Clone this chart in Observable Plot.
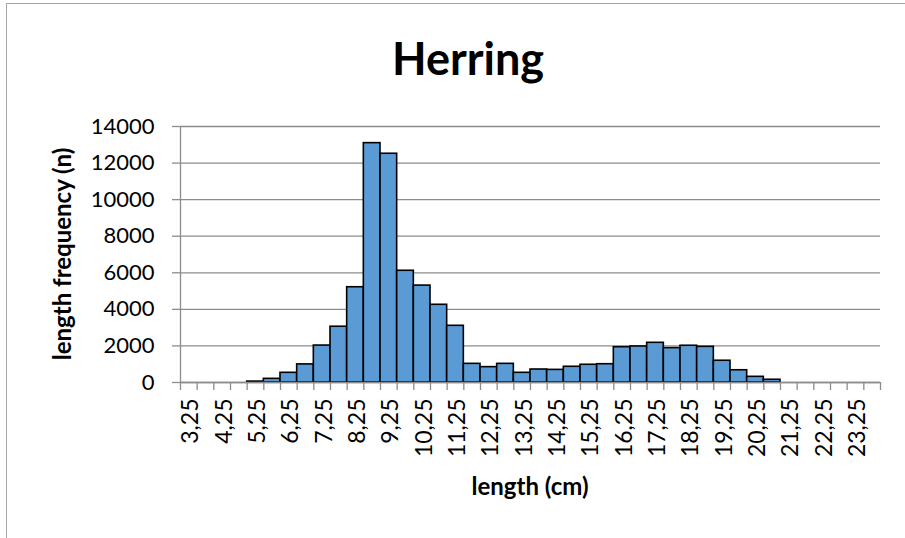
<!DOCTYPE html>
<html>
<head>
<meta charset="utf-8">
<script src="https://cdn.jsdelivr.net/npm/d3@7"></script>
<script src="https://cdn.jsdelivr.net/npm/@observablehq/plot@0.6"></script>
<style>
  html, body { margin: 0; padding: 0; background: #fff; overflow: hidden; width: 905px; height: 538px; }
  #wrap { position: relative; width: 905px; height: 538px; font-family: Lato, "Open Sans", sans-serif; }
  #frame { position: absolute; left: 6px; top: 3px; width: 1200px; height: 1200px; border: 1.5px solid #a6a6a6; box-sizing: border-box; }
  #chart { position: absolute; left: 0; top: 0; }
  .lbl { position: absolute; font-weight: bold; color: #000; white-space: nowrap; line-height: 1; }
  #title { left: 468px; top: 36px; transform: translateX(-50%); font-size: 45px; }
  #xtitle { left: 530px; top: 474px; transform: translateX(-50%); font-size: 24px; }
  #ytitle { left: 50px; top: 254px; font-size: 24px; transform-origin: 0 0; transform: rotate(-90deg) translate(-50%, 0); }
</style>
</head>
<body>
<div id="wrap">
  <div id="frame"></div>
  <div id="chart"></div>
  <div class="lbl" id="title">Herring</div>
  <div class="lbl" id="xtitle">length (cm)</div>
  <div class="lbl" id="ytitle">length frequency (n)</div>
</div>
<script>
// Length classes (cm), class width 0.5 cm
const lengths = [3.25, 3.75, 4.25, 4.75, 5.25, 5.75, 6.25, 6.75, 7.25, 7.75,
  8.25, 8.75, 9.25, 9.75, 10.25, 10.75, 11.25, 11.75, 12.25, 12.75,
  13.25, 13.75, 14.25, 14.75, 15.25, 15.75, 16.25, 16.75, 17.25, 17.75,
  18.25, 18.75, 19.25, 19.75, 20.25, 20.75, 21.25, 21.75, 22.25, 22.75,
  23.25, 23.75];
// Length frequency (n)
const counts = [0, 0, 0, 0, 50, 200, 530, 990, 2020, 3050,
  5210, 13090, 12510, 6110, 5300, 4250, 3100, 1020, 840, 1020,
  530, 710, 690, 860, 970, 1000, 1930, 1970, 2170, 1880,
  2010, 1950, 1190, 670, 310, 150, 0, 0, 0, 0,
  0, 0];
// Axis tick labels
const xLabels = [3.25, 4.25, 5.25, 6.25, 7.25, 8.25, 9.25, 10.25, 11.25, 12.25,
  13.25, 14.25, 15.25, 16.25, 17.25, 18.25, 19.25, 20.25, 21.25, 22.25, 23.25];
const yTicks = [0, 2000, 4000, 6000, 8000, 10000, 12000, 14000];

const classWidth = 0.5;
const data = lengths.map((len, i) => ({len, n: counts[i]}));
const xDomain = [lengths[0] - classWidth / 2, lengths[lengths.length - 1] + classWidth / 2];
const boundaries = lengths.map(l => l - classWidth / 2).concat([xDomain[1]]);
const gray = "#8c8c8c";
const fmt = d => d.toFixed(2).replace(".", ",");

const chart = Plot.plot({
  width: 905,
  height: 538,
  marginLeft: 180,
  marginRight: 25,
  marginTop: 126,
  marginBottom: 156,
  style: {fontFamily: "Lato, 'Open Sans', sans-serif", background: "transparent", color: "#000"},
  x: {type: "linear", domain: xDomain},
  y: {domain: [yTicks[0], yTicks[yTicks.length - 1]]},
  marks: [
    Plot.gridY(yTicks, {stroke: gray, strokeOpacity: 1, strokeWidth: 1.3}),
    Plot.rectY(data.filter(d => d.n > 0), {
      x1: d => d.len - classWidth / 2,
      x2: d => d.len + classWidth / 2,
      y: "n",
      fill: "#5B9BD5",
      stroke: "#000",
      strokeWidth: 1.6
    }),
    Plot.ruleX([xDomain[0]], {stroke: gray, strokeWidth: 1.3}),
    Plot.ruleY([yTicks[0]], {stroke: gray, strokeWidth: 1.3}),
    Plot.axisY(yTicks, {tickSize: 8, tickPadding: 18, stroke: gray, strokeWidth: 1.3, fontSize: 22, fill: "#000", tickFormat: d => String(d), label: null}),
    Plot.axisX(boundaries, {tickSize: 8, stroke: gray, strokeWidth: 1.3, text: null, label: null}),
    Plot.axisX(xLabels, {tickSize: 0, tickPadding: 16, tickRotate: -90, dx: 2, fontSize: 23, fill: "#000", tickFormat: fmt, label: null})
  ]
});
document.getElementById("chart").appendChild(chart);
</script>
</body>
</html>
